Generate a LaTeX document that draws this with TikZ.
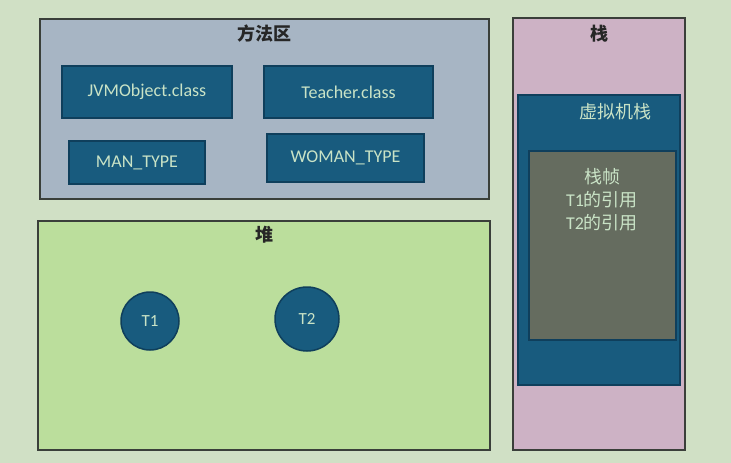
\documentclass[tikz,border=0pt]{standalone}
\usepackage{fontspec}
\setmainfont{Carlito}
\newfontfamily\cjk{Noto Sans CJK SC}
\usetikzlibrary{positioning}
\definecolor{bgc}{HTML}{D0E0C5}
\definecolor{cmeth}{HTML}{A7B5C4}
\definecolor{cheap}{HTML}{BBDE9C}
\definecolor{cstack}{HTML}{CDB2C5}
\definecolor{cbox}{HTML}{185B7E}
\definecolor{cboxd}{HTML}{0F3F5C}
\definecolor{cframe}{HTML}{656C5F}
\definecolor{ctxt}{HTML}{C9E3C6}
\definecolor{cedge}{HTML}{3A3F3A}
\tikzset{
  area/.style={rectangle, draw=cedge, line width=1.3pt, inner sep=0pt},
  cls/.style={rectangle, draw=cboxd, fill=cbox, line width=1.8pt,
              text=ctxt, font=\fontsize{18}{22}\selectfont, inner sep=0pt},
  obj/.style={circle, draw=cboxd, fill=cbox, line width=1.5pt,
              text=ctxt, font=\fontsize{17}{20}\selectfont, inner sep=0pt},
  title/.style={font=\cjk\bfseries\fontsize{18}{22}\selectfont, text=black!85},
  lbl/.style={text=ctxt, font=\fontsize{18}{23}\selectfont, align=center}
}

\begin{document}
\begin{tikzpicture}[x=1pt,y=-1pt]
\useasboundingbox (0,0) rectangle (731,463);
\fill[bgc] (0,0) rectangle (731,463);

% method area
\node[area, fill=cmeth, minimum width=449pt, minimum height=180pt] (meth) at (264.5,109) {};
\node[title] (methT) at (264,34) {方法区};
\node[cls, minimum width=170pt, minimum height=52pt] (jvmobj) at (147,92) {JVMObject.class};
\node[cls, minimum width=169pt, minimum height=52pt] (teacher) at (348.5,92) {Teacher.class};
\node[cls, minimum width=136pt, minimum height=43pt] (man) at (137,162.5) {MAN\_TYPE};
\node[cls, minimum width=157pt, minimum height=48pt] (woman) at (345.5,158) {WOMAN\_TYPE};

% heap
\node[area, fill=cheap, minimum width=452pt, minimum height=229pt] (heap) at (264,335.5) {};
\node[title] (heapT) at (264,235) {堆};
\node[obj, minimum size=58pt] (t1) at (150,321) {T1};
\node[obj, minimum size=64pt] (t2) at (307,319) {T2};

% stack
\node[area, fill=cstack, minimum width=172pt, minimum height=432pt] (stack) at (599,234) {};
\node[title] (stackT) at (599,34) {栈};
\node[cls, minimum width=162pt, minimum height=290pt] (vms) at (599,240) {};
\node[lbl, font=\cjk\fontsize{18}{22}\selectfont] (vmsT) at (615,112) {虚拟机栈};
\node[cls, fill=cframe, minimum width=147pt, minimum height=189pt] (frame) at (602.5,245.5) {};
\node[lbl] (frameT) at (602,200) {{\cjk 栈帧}\\T1{\cjk 的引用}\\T2{\cjk 的引用}};
\end{tikzpicture}
\end{document}
